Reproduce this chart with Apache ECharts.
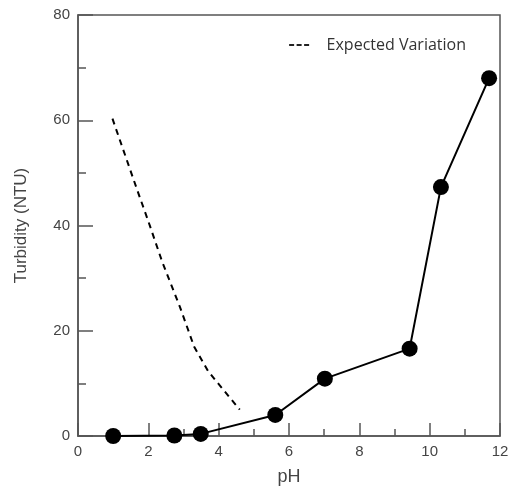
<!DOCTYPE html>
<html><head><meta charset="utf-8">
<script src="https://cdn.jsdelivr.net/npm/echarts@6/dist/echarts.min.js"></script>
<style>html,body{margin:0;padding:0;background:#fff}#c{width:515px;height:491px}</style>
</head><body><div id="c"></div>
<script>
const measuredPH = [1.0, 2.74, 3.49, 5.61, 7.02, 9.43, 10.32, 11.69];
const measuredNTU = [0.0, 0.1, 0.4, 4.0, 10.9, 16.6, 47.3, 68.0];
const expectedPH = [0.98, 1.67, 2.0, 2.4, 2.9, 3.3, 3.7, 4.13, 4.6];
const expectedNTU = [60.3, 47.0, 40.8, 33.0, 24.5, 17.0, 12.3, 8.8, 5.0];
const xTicks = [0, 2, 4, 6, 8, 10, 12];
const yTicks = [0, 20, 40, 60, 80];

const chart = echarts.init(document.getElementById('c'));
const axisCol = '#555';
const labelCol = '#444';
chart.setOption({
  animation: false,
  grid: {left: 78, right: 15, top: 15, bottom: 51, show: true, borderColor: axisCol, borderWidth: 1.5},
  legend: {
    data: [{name: 'Expected Variation', icon: 'path://M0,0h5v2h-5z M7.5,0h5v2h-5z M15,0h5v2h-5z'}],
    right: 44, top: 32, itemWidth: 20, itemHeight: 2,
    formatter: '   {name}',
    itemStyle: {color: '#222'},
    textStyle: {fontFamily: 'Open Sans', fontSize: 16, color: '#333'}
  },
  xAxis: {
    type: 'value', min: xTicks[0], max: xTicks[xTicks.length - 1], interval: 2,
    name: 'pH', nameLocation: 'middle', nameGap: 32,
    nameTextStyle: {fontFamily: 'Liberation Sans', fontSize: 18, color: labelCol},
    axisLine: {lineStyle: {color: axisCol, width: 1.5}},
    axisTick: {inside: true, length: 13, lineStyle: {color: axisCol, width: 1.5}},
    minorTick: {show: true, splitNumber: 2, length: 7, lineStyle: {color: axisCol, width: 1.5}},
    splitLine: {show: false},
    axisLabel: {fontFamily: 'Liberation Sans', fontSize: 15, color: labelCol, margin: 8}
  },
  yAxis: {
    type: 'value', min: yTicks[0], max: yTicks[yTicks.length - 1], interval: 20,
    name: 'Turbidity (NTU)', nameLocation: 'middle', nameGap: 48,
    nameTextStyle: {fontFamily: 'Liberation Sans', fontSize: 17, color: labelCol},
    axisLine: {lineStyle: {color: axisCol, width: 1.5}},
    axisTick: {inside: true, length: 15, lineStyle: {color: axisCol, width: 1.5}},
    minorTick: {show: true, splitNumber: 2, length: 8, lineStyle: {color: axisCol, width: 1.5}},
    splitLine: {show: false},
    axisLabel: {fontFamily: 'Liberation Sans', fontSize: 15, color: labelCol, margin: 8}
  },
  series: [
    {
      name: 'Measured', type: 'line',
      data: measuredPH.map((x, i) => [x, measuredNTU[i]]),
      symbol: 'circle', symbolSize: 16,
      lineStyle: {color: '#000', width: 2},
      itemStyle: {color: '#000'}
    },
    {
      name: 'Expected Variation', type: 'line',
      data: expectedPH.map((x, i) => [x, expectedNTU[i]]),
      showSymbol: false, symbol: 'none',
      lineStyle: {color: '#000', width: 2, type: [6, 5]},
      itemStyle: {color: '#000'}
    }
  ]
});
</script></body></html>
